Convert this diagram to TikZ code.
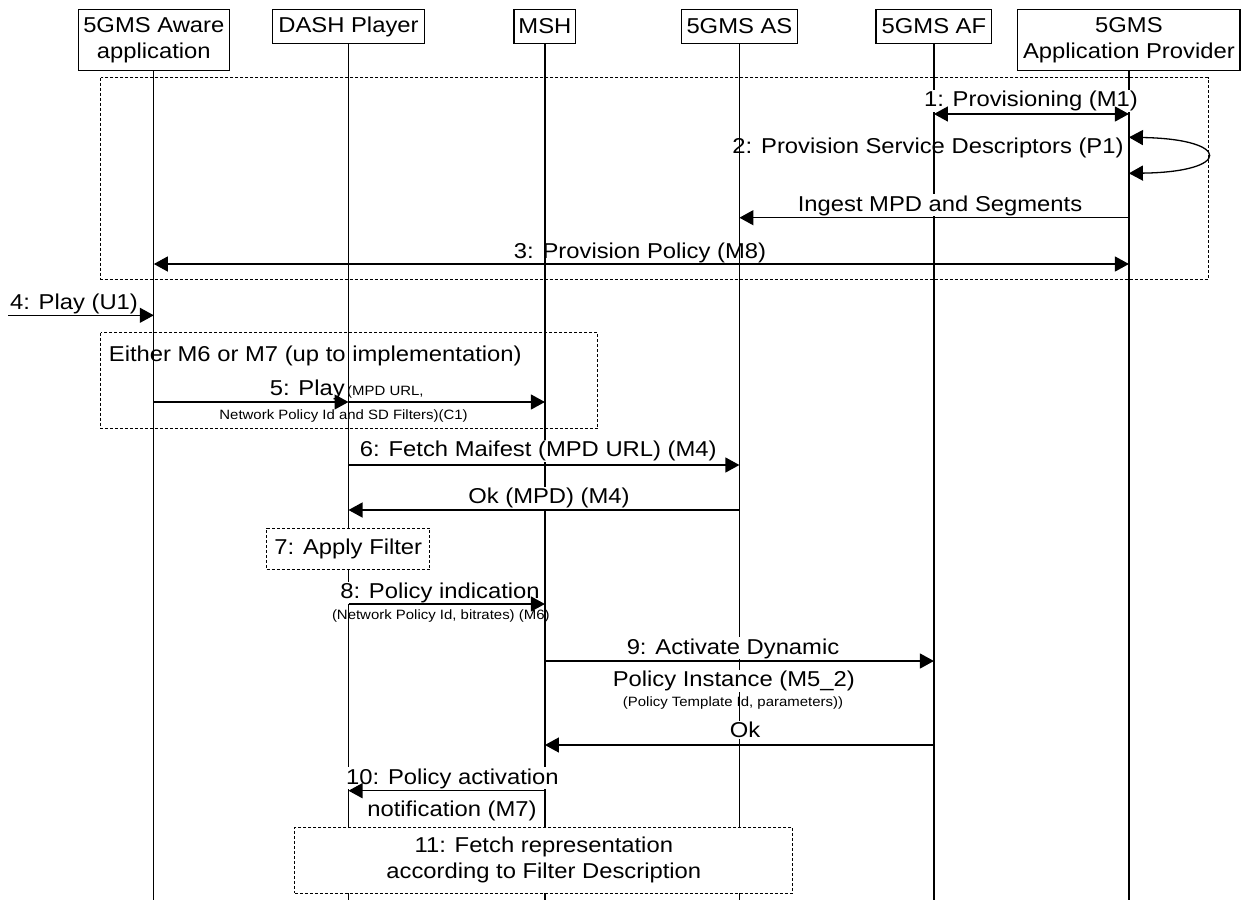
\documentclass[tikz,border=0pt]{standalone}
\usepackage{fontspec}
\setmainfont[FakeStretch=1.107]{Liberation Sans}
\usetikzlibrary{arrows.meta}
\begin{document}
\begin{tikzpicture}[x=1pt,y=-1pt,
  every node/.style={font=\fontsize{21.5}{26}\selectfont, inner sep=0pt},
  hdr/.style={draw, line width=1.3pt, align=center, fill=white},
  life/.style={line width=1.3pt},
  msg/.style={line width=1.3pt, -{Triangle[length=14pt,width=15pt]}},
  bmsg/.style={line width=1.3pt, {Triangle[length=14pt,width=15pt]}-{Triangle[length=14pt,width=15pt]}},
  frame/.style={draw, line width=1pt, dash pattern=on 3pt off 2pt},
  dbox/.style={draw, line width=1pt, dash pattern=on 3pt off 2pt, fill=white, align=center},
  lbl/.style={anchor=base, fill=white, inner sep=1pt},
  lbln/.style={anchor=base},
  small/.style={font=\fontsize{13.5}{16}\selectfont},
]
\useasboundingbox (0,0) rectangle (1241,900);
\coordinate (yb) at (0,900);

% headers
\node[hdr, minimum width=151pt, minimum height=61.4pt] (app) at (153.8,40) {5GMS Aware\\application};
\node[hdr, minimum width=151.6pt, minimum height=34.4pt] (dash) at (348.5,26.5) {DASH Player};
\node[hdr, minimum width=61.7pt, minimum height=34.4pt] (msh) at (544.9,26.5) {MSH};
\node[hdr, minimum width=115.9pt, minimum height=34.4pt] (as) at (739.4,26.5) {5GMS AS};
\node[hdr, minimum width=115.7pt, minimum height=34.4pt] (af) at (933.9,26.5) {5GMS AF};
\node[hdr, minimum width=222.3pt, minimum height=61.4pt] (ap) at (1128.9,40) {5GMS\\Application Provider};

% lifelines
\foreach \n in {app,dash,msh,as,af,ap}{
  \draw[life] (\n.south) -- (\n.south |- yb);
}

% frames
\draw[frame] (100.8,77.7) rectangle (1208.3,279);
\draw[frame] (100.8,332.7) rectangle (597.9,428.7);

% labels
\node[lbl] (l1) at (1031,106.7) {1: Provisioning (M1)};
\node[lbln] (l2) at (928,153.3) {2: Provision Service Descriptors (P1)};
\node[lbl] (lin) at (940,211) {Ingest MPD and Segments};
\node[lbln] (l3) at (640,258.5) {3: Provision Policy (M8)};
\node[lbln] (l4) at (74,309.3) {4: Play (U1)};
\node[lbln, anchor=base west] (leither) at (108.7,361.7) {Either M6 or M7 (up to implementation)};
\node[lbln, anchor=base east] (l5) at (345,395) {5: Play};
\node[lbln, small, anchor=base west] (l5a) at (347,395) {(MPD URL,};
\node[lbln, small] (l5b) at (343.6,419) {Network Policy Id and SD Filters)(C1)};
\node[lbl] (l6) at (538.3,456.7) {6: Fetch Maifest (MPD URL) (M4)};
\node[lbl] (l6b) at (549,503.3) {Ok (MPD) (M4)};
\node[lbl] (l8) at (440,598.3) {8: Policy indication};
\node[lbln, small] (l8b) at (440.8,619.3) {(Network Policy Id, bitrates) (M6)};
\node[lbl] (l9) at (733,654) {9: Activate Dynamic};
\node[lbl] (l9b) at (733.8,686.7) {Policy Instance (M5\_2)};
\node[lbln, small] (l9c) at (733,706.7) {(Policy Template Id, parameters))};
\node[lbl] (lok) at (745,737.3) {Ok};
\node[lbl] (l10) at (452.4,784) {10: Policy activation};
\node[lbln] (l10b) at (452,816) {notification (M7)};

% messages
\draw[bmsg] (af |- 0,114) -- (ap |- 0,114);
\draw[bmsg] (ap |- 0,137.3) .. controls (1232,139) and (1232,172) .. (ap |- 0,173.3);
\draw[msg] (ap |- 0,217.7) -- (as |- 0,217.7);
\draw[bmsg] (app |- 0,264) -- (ap |- 0,264);
\coordinate (ext) at (8,315.3);
\draw[msg] (ext) -- (app |- ext);
\draw[msg] (app |- 0,402) -- (dash |- 0,402);
\draw[msg] (dash |- 0,402) -- (msh |- 0,402);
\draw[msg] (dash |- 0,465) -- (as |- 0,465);
\draw[msg] (as |- 0,510) -- (dash |- 0,510);
\draw[msg] (dash |- 0,604) -- (msh |- 0,604);
\draw[msg] (msh |- 0,661) -- (af |- 0,661);
\draw[msg] (af |- 0,745) -- (msh |- 0,745);
\draw[msg] (msh |- 0,790.7) -- (dash |- 0,790.7);

% action boxes
\node[dbox, minimum width=163.3pt, minimum height=41.3pt] (filter) at (348.3,548.7) {7: Apply Filter};
\node[dbox, minimum width=497.7pt, minimum height=66pt] (fetch) at (543.8,860.3) {11: Fetch representation\\according to Filter Description};
\end{tikzpicture}
\end{document}
